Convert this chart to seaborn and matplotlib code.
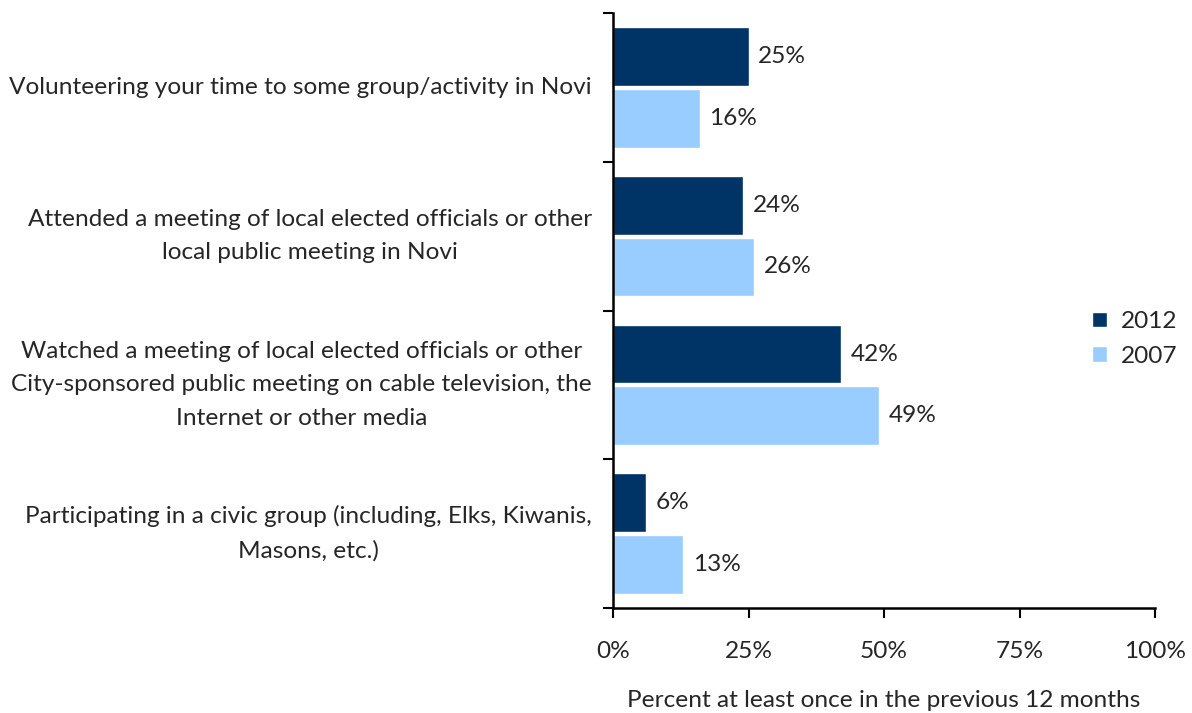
import matplotlib
matplotlib.use("Agg")
import matplotlib.pyplot as plt
import seaborn as sns
import pandas as pd
from matplotlib.patches import Patch
from matplotlib.ticker import FixedLocator, NullFormatter

categories = [
    "Volunteering your time to some group/activity in Novi",
    "Attended a meeting of local elected officials or other\nlocal public meeting in Novi",
    "Watched a meeting of local elected officials or other\nCity-sponsored public meeting on cable television, the\nInternet or other media",
    "Participating in a civic group (including, Elks, Kiwanis,\nMasons, etc.)",
]
years = ["2012", "2007"]
values_2012 = [25, 24, 42, 6]
values_2007 = [16, 26, 49, 13]
x_ticks = [0, 25, 50, 75, 100]
x_tick_labels = ["0%", "25%", "50%", "75%", "100%"]
x_label = "Percent at least once in the previous 12 months"

colors = {"2012": "#003366", "2007": "#99CCFF"}

df = pd.DataFrame({
    "category": categories * 2,
    "year": [years[0]] * 4 + [years[1]] * 4,
    "value": values_2012 + values_2007,
})

FS = 17.6

sns.set_theme(style="white")
plt.rcParams["font.family"] = ["Lato", "DejaVu Sans"]
plt.rcParams["font.size"] = FS

W, H = 1192, 713
fig = plt.figure(figsize=(W / 100, H / 100), dpi=100)
ax = fig.add_axes([613 / W, 1 - 608 / H, (1155 - 613) / W, (608 - 13) / H])

sns.barplot(data=df, y="category", x="value", hue="year", hue_order=years,
            palette=colors, orient="h", width=0.83, gap=0.05, ax=ax,
            legend=False, saturation=1)

ax.set_xlim(0, 100)
ax.set_ylim(3.5, -0.5)
ax.set_xticks(x_ticks)
ax.set_xticklabels(x_tick_labels, fontsize=FS)
ax.set_xlabel(x_label, fontsize=FS, labelpad=20)
ax.set_ylabel("")

# Category labels: right-aligned block, centred lines, one per band
ax.yaxis.set_major_locator(FixedLocator([-0.5, 0.5, 1.5, 2.5, 3.5]))
ax.yaxis.set_major_formatter(NullFormatter())
label_x = (592 - 613) / (1155 - 613)
for i, cat in enumerate(categories):
    ax.text(label_x, i, cat, transform=ax.get_yaxis_transform(),
            ha="right", va="center", fontsize=FS, multialignment="center",
            linespacing=1.74)

for side in ["top", "right"]:
    ax.spines[side].set_visible(False)
for side in ["left", "bottom"]:
    ax.spines[side].set_color("black")
    ax.spines[side].set_linewidth(1.8)
ax.tick_params(axis="both", which="major", direction="out", length=7,
               width=1.5, color="black", bottom=True, left=True)
ax.tick_params(axis="x", pad=17)

for container in ax.containers:
    ax.bar_label(container, labels=[f"{v:.0f}%" for v in container.datavalues],
                 padding=7, fontsize=FS)

handles = [Patch(facecolor=colors[y], label=y) for y in years]
fig.legend(handles=handles, loc="center left", bbox_to_anchor=(1070 / W, 1 - 339 / H),
           frameon=False, fontsize=FS, handlelength=0.6, handleheight=0.6,
           handletextpad=0.6, labelspacing=0.55)

fig.savefig("out.png", dpi=100, facecolor="white")
